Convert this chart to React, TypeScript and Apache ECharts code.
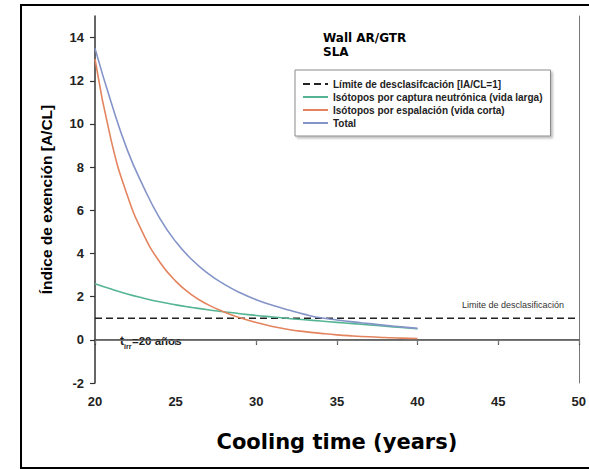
import React, { useEffect, useRef } from "react";
import * as echarts from "echarts";

const years = [20, 21, 22, 23, 24, 25, 26, 27, 28, 29, 30, 31, 32, 33, 34, 35, 36, 37, 38, 39, 40];
const totalValues = [13.5, 11.0, 8.8, 7.1, 5.65, 4.55, 3.72, 3.08, 2.58, 2.18, 1.86, 1.6, 1.38, 1.18, 1.02, 0.92, 0.83, 0.75, 0.67, 0.6, 0.53];
const captureValues = [2.6, 2.35, 2.12, 1.93, 1.76, 1.62, 1.5, 1.39, 1.3, 1.21, 1.13, 1.06, 0.99, 0.93, 0.87, 0.81, 0.75, 0.69, 0.63, 0.57, 0.51];
const spallationValues = [13.0, 9.25, 6.7, 4.9, 3.62, 2.72, 2.08, 1.63, 1.29, 1.02, 0.8, 0.62, 0.48, 0.38, 0.3, 0.23, 0.18, 0.14, 0.11, 0.08, 0.06];
const limitXs = [20, 50];
const limitValue = 1;

const seriesNames = [
  "Límite de desclasifcación [IA/CL=1]",
  "Isótopos por captura neutrónica (vida larga)",
  "Isótopos por espalación (vida corta)",
  "Total",
];

const xTitle = "Cooling time (years)";
const yTitle = "Índice de exención [A/CL]";

const pair = (xs: number[], ys: number[]) => xs.map((x, i) => [x, ys[i]]);

export default function App() {
  const ref = useRef<HTMLDivElement>(null);
  useEffect(() => {
    document.body.style.margin = "0";
    const chart = echarts.init(ref.current!, null, { renderer: "svg" });
    const labelFont = { fontFamily: "Liberation Sans", fontWeight: "bold" as const, fontSize: 13, color: "#222" };
    const curve = (name: string, values: number[], color: string) => ({
      name,
      type: "line",
      data: pair(years, values),
      symbol: "none",
      smooth: true,
      color,
      lineStyle: { color, width: 1.6 },
    });
    chart.setOption({
      animation: false,
      backgroundColor: "#fff",
      grid: { left: 95, right: 7, top: 16, bottom: 86, containLabel: false },
      legend: {
        orient: "vertical",
        left: 295,
        top: 70,
        padding: [8, 8, 7, 7],
        itemWidth: 25,
        itemHeight: 10,
        itemGap: 1,
        borderColor: "#8a8a8a",
        borderWidth: 1,
        backgroundColor: "#fff",
        shadowColor: "rgba(0,0,0,0.25)",
        shadowBlur: 2,
        shadowOffsetX: 2,
        shadowOffsetY: 2,
        itemStyle: { opacity: 0 },
        textStyle: { fontFamily: "Liberation Sans", fontWeight: "bold", fontSize: 10, lineHeight: 12, color: "#222" },
        data: seriesNames,
      },
      xAxis: [
        {
          type: "value",
          min: 20,
          max: 50,
          interval: 5,
          position: "bottom",
          name: xTitle,
          nameLocation: "middle",
          nameGap: 48,
          nameTextStyle: { fontFamily: "DejaVu Sans", fontWeight: "bold", fontSize: 21, color: "#000" },
          axisLine: { lineStyle: { color: "#333", width: 1.5 } },
          axisTick: { show: true, length: 5, inside: false, lineStyle: { color: "#333", width: 1.2 } },
          axisLabel: { ...labelFont, margin: 12 },
          splitLine: { show: false },
        },
        {
          type: "value",
          min: 20,
          max: 50,
          interval: 5,
          position: "top",
          axisLine: { show: true, lineStyle: { color: "#777", width: 1 } },
          axisTick: { show: true, length: 4, inside: true, lineStyle: { color: "#777" } },
          axisLabel: { show: false },
          splitLine: { show: false },
        },
      ],
      yAxis: [
        {
          type: "value",
          min: -2,
          max: 15,
          interval: 2,
          position: "left",
          name: yTitle,
          nameLocation: "middle",
          nameGap: 41,
          nameTextStyle: { fontFamily: "Liberation Sans", fontWeight: "bold", fontSize: 15.5, color: "#000" },
          axisLine: { show: true, lineStyle: { color: "#333", width: 1.5 } },
          axisTick: { show: true, length: 5, inside: false, lineStyle: { color: "#333", width: 1.2 } },
          axisLabel: { ...labelFont, margin: 11, showMaxLabel: false },
          splitLine: { show: false },
        },
        {
          type: "value",
          min: -2,
          max: 15,
          interval: 2,
          position: "right",
          axisLine: { show: true, lineStyle: { color: "#777", width: 1 } },
          axisTick: { show: false },
          axisLabel: { show: false },
          splitLine: { show: false },
        },
      ],
      series: [
        {
          name: seriesNames[0],
          type: "line",
          xAxisIndex: 0,
          yAxisIndex: 0,
          data: limitXs.map((x) => [x, limitValue]),
          symbol: "none",
          color: "#222",
          lineStyle: { color: "#222", width: 1.5, type: [7, 4] },
          z: 3,
        },
        curve(seriesNames[1], captureValues, "#55b592"),
        curve(seriesNames[2], spallationValues, "#e3845f"),
        curve(seriesNames[3], totalValues, "#8494c8"),
      ],
      graphic: [
        {
          type: "rect",
          shape: { x: 21, y: 5, width: 600, height: 463 },
          style: { fill: "none", stroke: "#000", lineWidth: 2 },
          silent: true,
          z: 100,
        },
        {
          type: "text",
          left: 323,
          top: 31,
          style: {
            text: "Wall AR/GTR\nSLA",
            fontFamily: "DejaVu Sans",
            fontWeight: "bold",
            fontSize: 12,
            lineHeight: 14,
            fill: "#000",
          },
        },
        {
          type: "text",
          left: 462,
          top: 300,
          style: {
            text: "Limite de desclasificación",
            fontFamily: "Liberation Sans",
            fontSize: 9,
            fill: "#333",
          },
        },
        {
          type: "text",
          left: 120,
          top: 335,
          style: { text: "t", fontFamily: "Liberation Sans", fontWeight: "bold", fontSize: 12, fill: "#222" },
        },
        {
          type: "text",
          left: 124,
          top: 343,
          style: { text: "irr", fontFamily: "Liberation Sans", fontWeight: "bold", fontSize: 7, fill: "#222" },
        },
        {
          type: "text",
          left: 132,
          top: 335,
          style: { text: "=20 años", fontFamily: "Liberation Sans", fontWeight: "bold", fontSize: 11.5, fill: "#222" },
        },
      ],
    });
    return () => chart.dispose();
  }, []);
  return <div ref={ref} style={{ position: "absolute", left: 0, top: 0, width: 589, height: 469 }} />;
}
